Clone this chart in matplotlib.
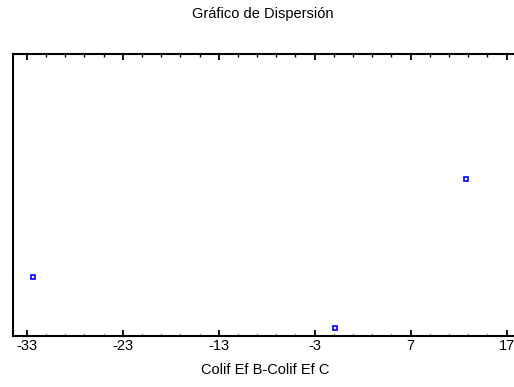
import matplotlib
matplotlib.use("Agg")
import matplotlib.pyplot as plt
from matplotlib.ticker import MultipleLocator, FixedLocator

plt.rcParams['font.family'] = ['Liberation Sans', 'DejaVu Sans']

# Differences Colif Ef B - Colif Ef C with vertical jitter positions
diff_values = [-32.3, -0.9, 12.8]
jitter_y = [0.21, 0.03, 0.557]
x_ticks = [-33, -23, -13, -3, 7, 17]

fig = plt.figure(figsize=(5.14, 3.87), dpi=100)
ax = fig.add_axes([13/514, 1 - 336/387, 500/514, (336 - 54)/387])

ax.plot(diff_values, jitter_y, linestyle='none', marker='s', markersize=3.4,
        markerfacecolor='white', markeredgecolor='#0000ff', markeredgewidth=1.2)

ax.set_xlim(-34.43, 17.66)
ax.set_ylim(0, 1)
ax.xaxis.set_major_locator(FixedLocator(x_ticks))
ax.xaxis.set_minor_locator(MultipleLocator(2, offset=1))
ax.set_xticklabels([str(t) for t in x_ticks])
ax.set_yticks([])

ax.tick_params(axis='x', which='major', direction='in', length=4.5, width=1.3,
               top=True, bottom=True, labelsize=10.5, pad=2)
ax.tick_params(axis='x', which='minor', direction='in', length=1.8, width=1,
               top=True, bottom=True)

for side in ('left', 'top', 'bottom'):
    ax.spines[side].set_linewidth(1.5)
ax.spines['right'].set_visible(False)

fig.text(263/514, 1 - 14/387, 'Gráfico de Dispersión', ha='center', va='center', fontsize=10.5)
fig.text(265/514, 1 - 370/387, 'Colif Ef B-Colif Ef C', ha='center', va='center', fontsize=10.5)

fig.savefig('out.png', dpi=100)
